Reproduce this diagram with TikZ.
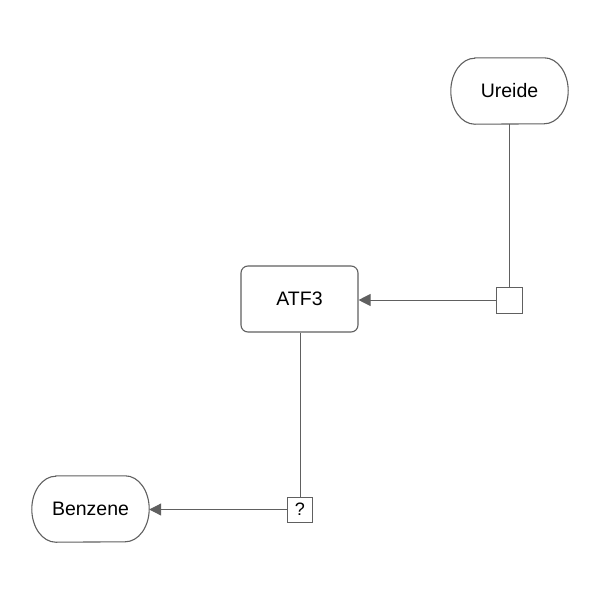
\documentclass[tikz,border=0pt]{standalone}
\usepackage{fontspec}
\setmainfont{Liberation Sans}
\usetikzlibrary{arrows.meta}
\definecolor{edge}{HTML}{606060}
\tikzset{
  base/.style={draw=none, minimum width=117pt, minimum height=66pt, inner sep=0pt, font=\fontsize{19.5}{23}\selectfont},
  procbox/.style={draw=edge, line width=1.1pt, minimum width=117pt, minimum height=66pt, rounded corners=7pt, inner sep=0pt, font=\fontsize{19.5}{23}\selectfont},
  smallbox/.style={draw=edge, line width=1pt, fill=white, minimum size=25pt, inner sep=0pt, font=\fontsize{18}{21}\selectfont},
  link/.style={draw=edge, line width=1pt},
  arr/.style={link, -{Triangle[length=12pt,width=12pt]}},
  stadium/.style={draw=edge, line width=1.1pt}
}
\newcommand{\stadiumshape}[1]{%
  \draw[stadium] ([xshift=24pt]#1.north west) -- ([xshift=-24pt]#1.north east)
    arc[start angle=90,end angle=-90,x radius=24pt,y radius=33pt]
    -- ([xshift=24pt]#1.south west)
    arc[start angle=270,end angle=90,x radius=24pt,y radius=33pt] -- cycle;}
\begin{document}
\begin{tikzpicture}[x=1pt,y=-1pt]
\useasboundingbox (0,0) rectangle (600,600);
\node[base] (ureide) at (509.5,91) {Ureide};
\stadiumshape{ureide}
\node[procbox] (atf3) at (299.5,299) {ATF3};
\node[base] (benzene) at (90.5,509) {Benzene};
\stadiumshape{benzene}
\node[smallbox, minimum size=26pt] (p1) at (509,300) {};
\node[smallbox] (p2) at (300,509.5) {?};
\draw[link] (ureide.south -| p1.north) -- (p1.north);
\draw[arr] (p1.west) -- (atf3.east |- p1.west);
\draw[link] (atf3.south -| p2.north) -- (p2.north);
\draw[arr] (p2.west) -- (benzene.east |- p2.west);
\end{tikzpicture}
\end{document}
